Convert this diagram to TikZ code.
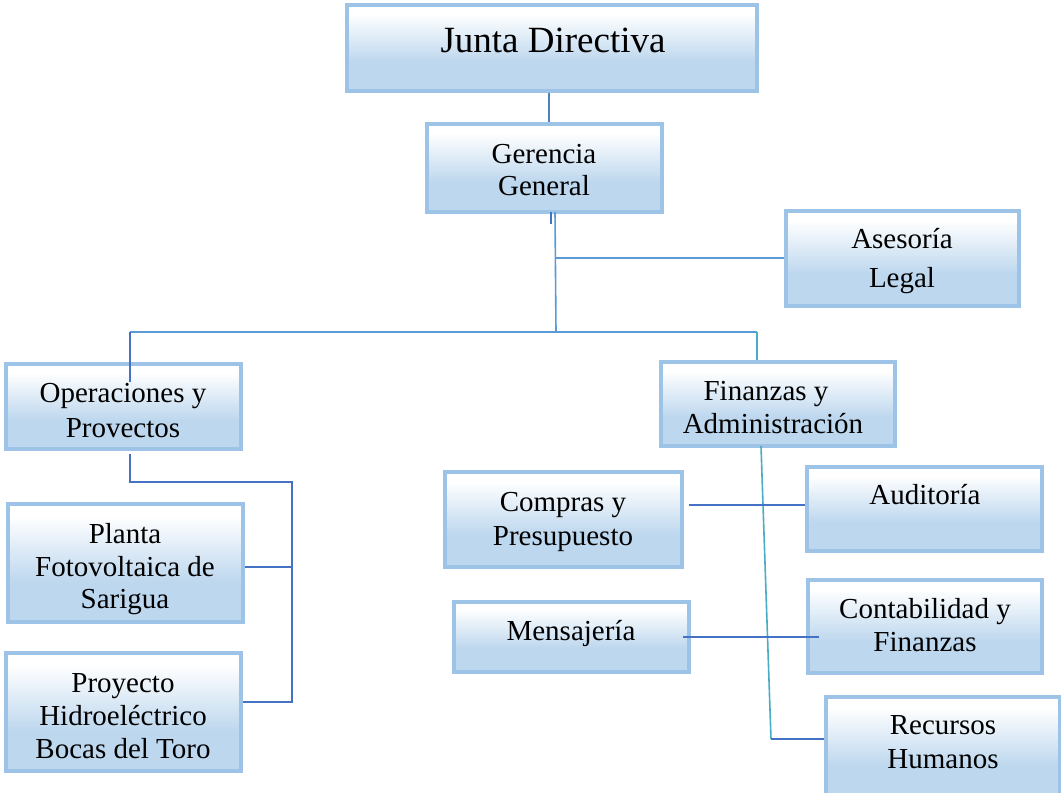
\documentclass[tikz,border=0pt]{standalone}
\usepackage{fontspec}
\setmainfont{Liberation Serif}
\definecolor{boxborder}{HTML}{9DC3E6}
\definecolor{boxblue}{HTML}{BDD7EE}
\definecolor{lineA}{HTML}{5B9BD5}
\definecolor{lineB}{HTML}{4472C4}
\definecolor{lineT}{HTML}{4BACC6}
\definecolor{lineJ}{HTML}{4F81BD}
\pgfdeclareverticalshading{boxshade}{100bp}{color(0bp)=(boxblue); color(25bp)=(boxblue); color(42bp)=(boxblue); color(70bp)=(white); color(100bp)=(white)}
\begin{document}
\begin{tikzpicture}[x=1pt,y=-1pt,
  box/.style={draw=boxborder, line width=3.2pt, shading=boxshade, rectangle, inner sep=0pt},
  txt/.style={anchor=base, inner sep=0pt, font=\fontsize{29}{32}\selectfont},
  big/.style={anchor=base, inner sep=0pt, font=\fontsize{37}{42}\selectfont},
  conA/.style={draw=lineA, line width=1.6pt},
  conB/.style={draw=lineB, line width=1.8pt},
  conT/.style={draw=lineT, line width=1.6pt},
  conJ/.style={draw=lineJ, line width=2pt}]
\useasboundingbox (0,0) rectangle (1061,793);
\fill[white] (0,0) rectangle (1061,793);
% boxes
\node[box, minimum width=410pt, minimum height=86pt] (junta) at (552,48) {};
\node[box, minimum width=235pt, minimum height=88pt] (ger) at (544.5,168) {};
\node[box, minimum width=233pt, minimum height=95pt] (ases) at (902.5,258.5) {};
\node[box, minimum width=235pt, minimum height=85pt] (ope) at (123.5,406.5) {};
\node[box, minimum width=235pt, minimum height=118pt] (planta) at (125.5,563) {};
\node[box, minimum width=235pt, minimum height=118pt] (proy) at (123.5,712) {};
\node[box, minimum width=234pt, minimum height=84pt] (fin) at (778,404) {};
\node[box, minimum width=237pt, minimum height=95pt] (comp) at (563.5,519.5) {};
\node[box, minimum width=235pt, minimum height=70pt] (mens) at (571.5,637) {};
\node[box, minimum width=235pt, minimum height=84pt] (aud) at (924.5,509) {};
\node[box, minimum width=234pt, minimum height=93pt] (cont) at (925,626.5) {};
\node[box, minimum width=234pt, minimum height=104pt] (rrhh) at (943,749) {};
% junction coordinates
\coordinate (gtop) at (555,212);
\coordinate (gbot) at (556,332);
\coordinate (gmid) at (555.5,258);
\coordinate (hl) at (130,332);
\coordinate (hr) at (757,332);
\coordinate (opin) at (130,382);
\coordinate (op1) at (130,454);
\coordinate (op2) at (130,482);
\coordinate (op3) at (292,482);
\coordinate (op4) at (292,702);
\coordinate (op5) at (292,567);
\coordinate (fa) at (761,446);
\coordinate (fb) at (771,739);
\coordinate (ca) at (689,505);
\coordinate (ma) at (683,637);
\coordinate (mb) at (819,637);
\coordinate (stA) at (551,212);
\coordinate (stB) at (551,224);
% connectors
\draw[conJ] (549,0 |- junta.south) -- (549,0 |- ger.north);
\draw[conB] (stA) -- (stB);
\draw[conA] (gtop) -- (gbot);
\draw[conA] (gmid) -- (ases.west |- gmid);
\draw[conA] (hl) -- (hr);
\draw[conB] (hl) -- (opin);
\draw[conT] (hr) -- (hr |- fin.north);
\draw[conB] (op1) -- (op2) -- (op3) -- (op4) -- (proy.east |- op4);
\draw[conB] (planta.east |- op5) -- (op5);
\draw[conT] (fa) -- (fb);
\draw[conB] (fb) -- (rrhh.west |- fb);
\draw[conB] (ca) -- (aud.west |- ca);
\draw[conB] (ma) -- (mb);
% texts
\node[big] (tjunta) at (553,52) {Junta Directiva};
\node[txt] (tger1) at (544,163) {Gerencia};
\node[txt] (tger2) at (544,195) {General};
\node[txt] (tases1) at (902,248) {Asesoría};
\node[txt] (tases2) at (902,287) {Legal};
\node[txt] (tope1) at (123,402) {Operaciones y};
\node[txt] (tope2) at (123,437) {Provectos};
\node[txt] (tpl1) at (125,543) {Planta};
\node[txt] (tpl2) at (125,576) {Fotovoltaica de};
\node[txt] (tpl3) at (125,608) {Sarigua};
\node[txt] (tpr1) at (123,692) {Proyecto};
\node[txt] (tpr2) at (123,725) {Hidroeléctrico};
\node[txt] (tpr3) at (123,758) {Bocas del Toro};
\node[txt] (tfin1) at (766,400) {Finanzas y};
\node[txt] (tfin2) at (773,433) {Administración};
\node[txt] (tcom1) at (563,511) {Compras y};
\node[txt] (tcom2) at (563,545) {Presupuesto};
\node[txt] (tmen) at (571,640) {Mensajería};
\node[txt] (taud) at (925,504) {Auditoría};
\node[txt] (tcon1) at (925,618) {Contabilidad y};
\node[txt] (tcon2) at (925,651) {Finanzas};
\node[txt] (trh1) at (943,734) {Recursos};
\node[txt] (trh2) at (943,768) {Humanos};
\end{tikzpicture}
\end{document}
